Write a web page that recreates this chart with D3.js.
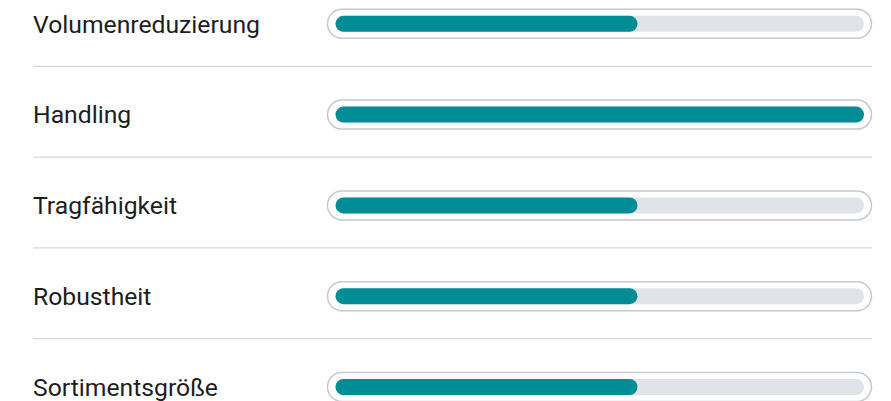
<!DOCTYPE html>
<html><head><meta charset="utf-8">
<script src="https://cdn.jsdelivr.net/npm/d3@7"></script>
<style>html,body{margin:0;padding:0;background:#fff;}</style>
</head><body>
<script>
const categories = ["Volumenreduzierung","Handling","Tragfähigkeit","Robustheit","Sortimentsgröße"];
const values = [4, 7, 4, 4, 4];
const maxValue = 7;

const W = 891, H = 401;
const svg = d3.select("body").append("svg").attr("width", W).attr("height", H);

const y = d3.scalePoint().domain(categories).range([23.8, 387]);
const x = d3.scaleLinear().domain([0, maxValue]).range([335.5, 864]);

const rows = svg.selectAll("g.row").data(categories).join("g")
  .attr("transform", d => `translate(0,${y(d)})`);

// separators
rows.filter((d,i) => i < categories.length - 1).append("line")
  .attr("x1", 33).attr("x2", 872).attr("y1", 42.5).attr("y2", 42.5)
  .attr("stroke", "#c9ced4").attr("stroke-width", 1);

const labels = rows.append("text").text(d => d)
  .attr("x", 33).attr("y", 8.7)
  .attr("font-family", "Roboto, sans-serif").attr("font-size", 24)
  .attr("fill", "#1d1d1d");

// outer pill
rows.append("rect")
  .attr("x", 327.5).attr("y", -14.5).attr("width", 871.5 - 327.5).attr("height", 29)
  .attr("rx", 14.5).attr("fill", "#fff").attr("stroke", "#c5cad0").attr("stroke-width", 1.5);

// track
rows.append("rect")
  .attr("x", x(0)).attr("y", -8).attr("width", x(maxValue) - x(0)).attr("height", 16)
  .attr("rx", 8).attr("fill", "#e0e4e8");

// fill
rows.append("rect")
  .attr("x", x(0)).attr("y", -8).attr("width", (d,i) => x(values[i]) - x(0)).attr("height", 16)
  .attr("rx", 8).attr("fill", "#008d95");

// condense labels uniformly (reference uses a condensed face)
const nodes = labels.nodes();
const factor = 227 / nodes[0].getComputedTextLength();
nodes.forEach(n => {
  const L = n.getComputedTextLength();
  d3.select(n).attr("textLength", L * factor).attr("lengthAdjust", "spacingAndGlyphs");
});
</script>
</body></html>
